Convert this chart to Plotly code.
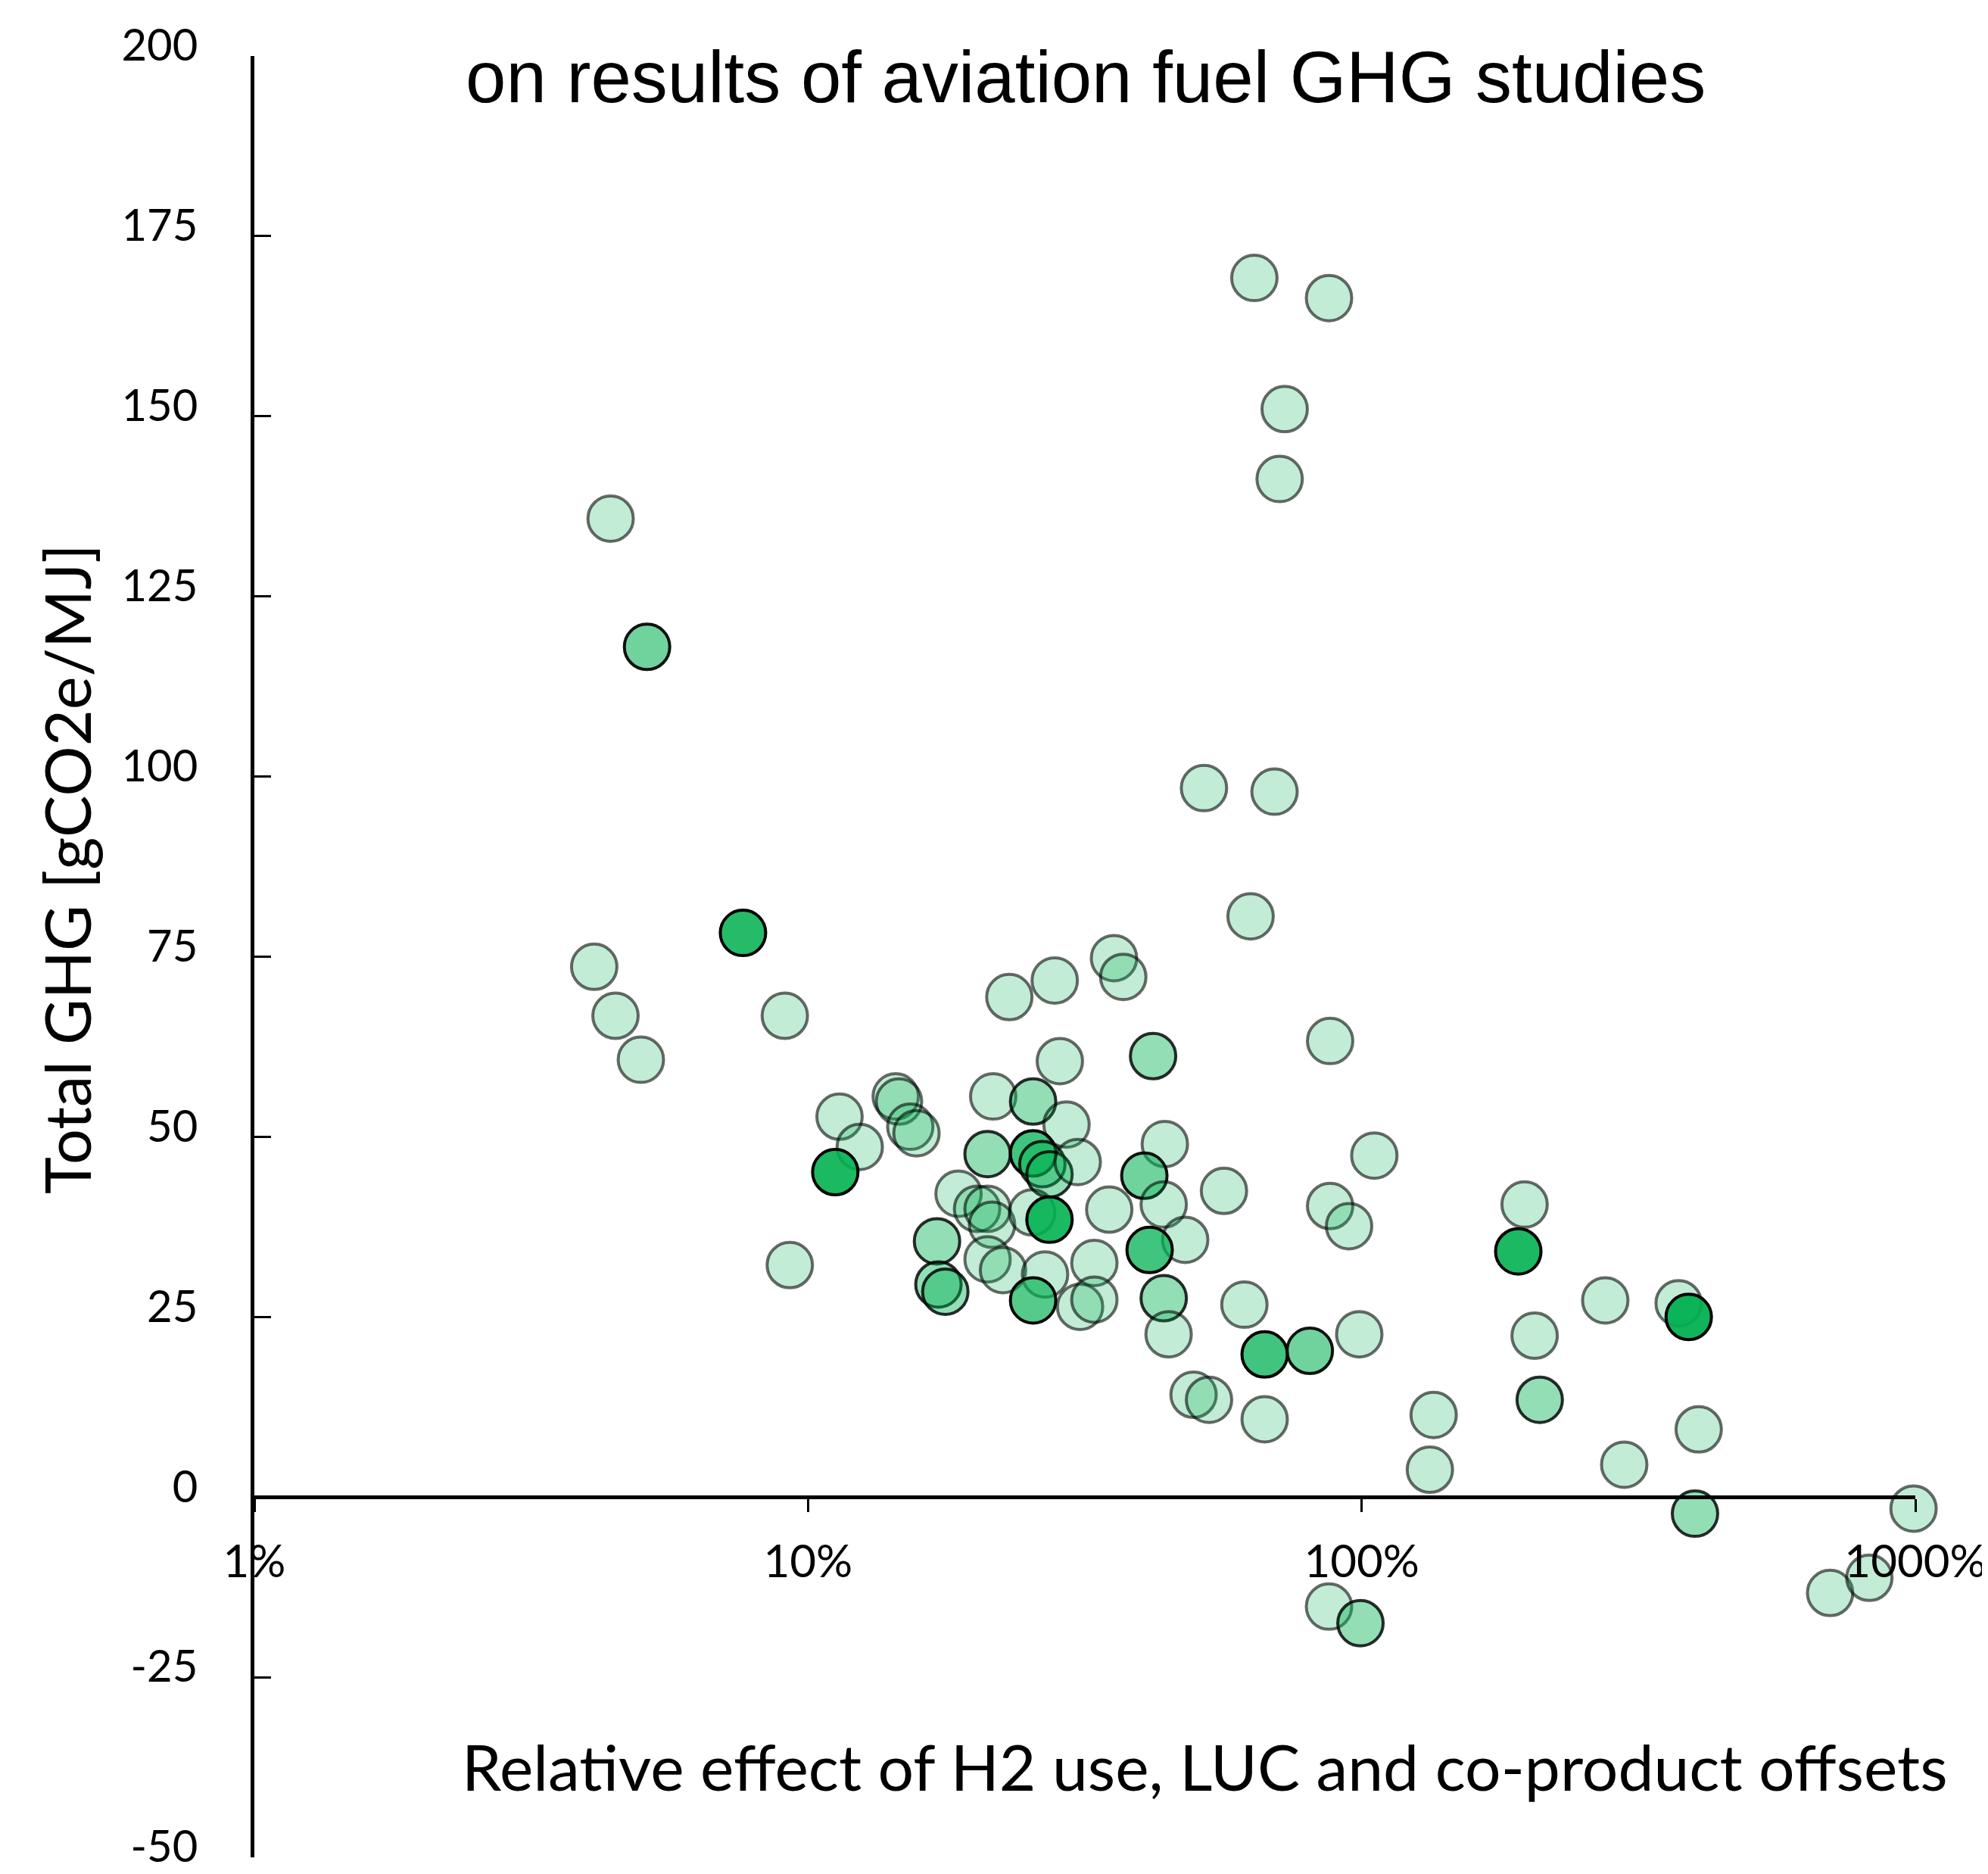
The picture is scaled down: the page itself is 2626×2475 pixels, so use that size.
import plotly.graph_objects as go

# Relative effect (%) of H2 use, LUC and co-product offsets
x_pct = [64.0, 87.3, 72.6, 71.1, 4.40, 5.12, 51.9, 69.6, 63.0, 7.63,
         4.11, 4.49, 4.99, 9.08, 35.7, 37.1, 23.1, 27.9, 87.7, 42.0,
         28.5, 11.4, 12.4, 14.4, 14.6, 15.3, 15.7, 21.6, 25.5, 29.3,
         21.1, 25.5, 26.5, 27.3, 30.7, 11.2, 44.1, 105.4, 40.5, 43.9,
         56.4, 18.7, 20.2, 21.1, 21.5, 25.4, 27.3, 35.0, 87.7, 94.9,
         196.9, 17.1, 21.1, 22.5, 26.8, 32.9, 48.0, 41.4, 191.8, 9.27,
         17.2, 17.7, 25.5, 31.0, 32.9, 43.9, 61.4, 275.4, 373.7, 389.7,
         44.8, 99.0, 205.3, 66.8, 80.6, 49.7, 53.0, 66.8, 134.9, 209.7,
         406.2, 132.8, 298.0, 400.0, 992.6, 87.3, 99.5, 701.6, 826.0]
# Total GHG [gCO2e/MJ]
y_ghg = [169.2, 166.4, 151.0, 141.3, 135.8, 118.0, 98.4, 97.9, 80.6, 78.3,
         73.6, 66.8, 60.7, 66.8, 74.8, 72.2, 69.4, 71.7, 63.3, 61.2,
         60.5, 52.8, 48.6, 55.6, 54.9, 51.4, 50.5, 55.6, 54.9, 51.7,
         47.6, 47.7, 46.2, 44.8, 46.5, 45.1, 49.0, 47.4, 44.6, 40.6,
         42.5, 42.1, 40.0, 40.0, 37.8, 39.5, 38.5, 39.9, 40.4, 37.6,
         40.6, 35.5, 33.0, 31.5, 30.9, 32.5, 35.7, 34.3, 34.1, 32.2,
         29.5, 28.5, 27.3, 26.4, 27.4, 27.6, 26.7, 27.3, 26.9, 25.0,
         22.6, 22.6, 22.4, 19.8, 20.3, 14.2, 13.5, 10.8, 11.4, 13.5,
         9.4, 3.8, 4.5, -2.3, -1.6, -15.2, -17.5, -13.3, -11.2]
# Number of coincident study results at each point
n_results = [1, 1, 1, 1, 1, 3, 1, 1, 1, 7,
             1, 1, 1, 1, 1, 1, 1, 1, 1, 2,
             1, 1, 1, 1, 1, 1, 1, 1, 2, 1,
             2, 5, 2, 2, 1, 8, 1, 1, 3, 1,
             1, 1, 1, 1, 1, 1, 8, 1, 1, 1,
             1, 2, 1, 1, 1, 1, 1, 5, 8, 1,
             2, 2, 4, 1, 1, 2, 1, 1, 1, 10,
             1, 1, 1, 5, 3, 1, 1, 1, 1, 2,
             1, 1, 1, 2, 1, 1, 2, 1, 1]

y_ticks = [-50, -25, 0, 25, 50, 75, 100, 125, 150, 175, 200]
y_tick_labels = ["-50", "-25", "0", "25", "50", "75", "100", "125", "150", "175", "200"]
x_ticks = [1, 10, 100, 1000]
x_tick_labels = ["1%", "10%", "100%", "1000%"]

fill_colors = ["rgba(0,176,80,%.3f)" % (1 - 0.76 ** n) for n in n_results]
line_colors = ["rgba(0,0,0,%.3f)" % (1 - 0.42 ** n) for n in n_results]

W, H = 2626, 2475
L, R, T, B = 328, 104, 66, 30
plot_w = W - L - R
plot_h = H - T - B

def px_x(px):
    return (px - L) / plot_w

def px_y(py):
    return (H - B - py) / plot_h

fig = go.Figure()
fig.add_trace(go.Scatter(
    x=x_pct, y=y_ghg, mode="markers",
    marker=dict(size=60, color=fill_colors,
                line=dict(color=line_colors, width=4)),
    hoverinfo="x+y", showlegend=False, cliponaxis=False,
))

y_min, y_max = -50, 200
fig.update_layout(
    width=W, height=H,
    margin=dict(l=L, r=R, t=T, b=B, pad=0, autoexpand=False),
    paper_bgcolor="white", plot_bgcolor="white",
    showlegend=False,
    xaxis=dict(
        type="log", range=[0, 3], automargin=False,
        anchor="free", position=(0 - y_min) / (y_max - y_min),
        showline=True, linecolor="black", linewidth=5,
        ticks="outside", ticklen=17, tickwidth=3, tickcolor="black",
        tickvals=x_ticks, ticktext=x_tick_labels,
        ticklabelstandoff=14,
        ticklabeloverflow="allow",
        tickfont=dict(family="Lato", size=60, color="black"),
        showgrid=False, zeroline=False,
    ),
    yaxis=dict(
        range=[y_min, y_max], automargin=False,
        showline=True, linecolor="black", linewidth=5,
        ticks="inside", ticklen=22, tickwidth=3, tickcolor="black",
        tickvals=y_ticks, ticktext=y_tick_labels,
        ticklabelstandoff=58, ticklabelshift=-14,
        ticklabeloverflow="allow",
        tickfont=dict(family="Lato", size=58, color="black"),
        showgrid=False, zeroline=False,
    ),
    annotations=[
        dict(text="on results of aviation fuel GHG studies",
             xref="paper", yref="paper", x=px_x(1426), y=px_y(94),
             xanchor="center", yanchor="middle", showarrow=False,
             font=dict(family="Liberation Sans", size=96, color="black")),
        dict(text="Total GHG [gCO2e/MJ]",
             xref="paper", yref="paper", x=px_x(80), y=px_y(1140),
             xanchor="center", yanchor="middle", showarrow=False, textangle=-90,
             font=dict(family="Lato", size=83, color="black")),
        dict(text="Relative effect of H2 use, LUC and co-product offsets",
             xref="paper", yref="paper", x=px_x(1583), y=px_y(2324),
             xanchor="center", yanchor="middle", showarrow=False,
             font=dict(family="Lato", size=84, color="black")),
    ],
)

fig.write_html("out.html")
